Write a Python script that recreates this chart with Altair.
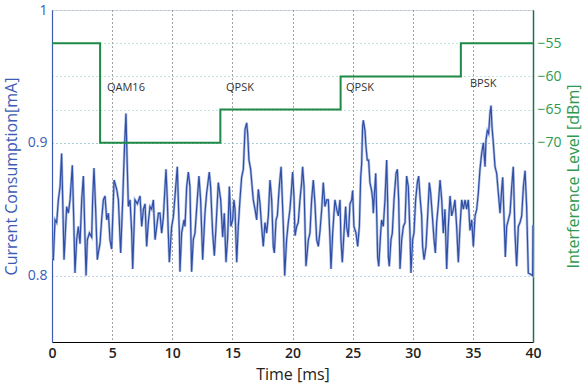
import altair as alt
import pandas as pd

# Current consumption signal (time in ms, current in mA)
t_sig = [0.0, 0.11, 0.25, 0.39, 0.53, 0.67, 0.80, 0.89, 1.00, 1.11, 1.22, 1.36, 1.50, 1.69, 1.80, 1.91,
         2.05, 2.19, 2.33, 2.47, 2.61, 2.72, 2.83, 2.94, 3.11, 3.30, 3.38, 3.49, 3.63, 3.77, 3.85, 3.99,
         4.13, 4.27, 4.41, 4.55, 4.69, 4.82, 4.96, 5.16, 5.38, 5.52, 5.71, 5.88, 6.02, 6.15, 6.26, 6.35,
         6.49, 6.63, 6.71, 6.90, 7.10, 7.32, 7.46, 7.60, 7.74, 7.87, 8.01, 8.15, 8.29, 8.43, 8.57, 8.71,
         8.85, 8.98, 9.12, 9.26, 9.48, 9.59, 9.67, 9.76, 9.95, 10.09, 10.23, 10.42, 10.59, 10.64, 10.78,
         10.98, 11.06, 11.20, 11.34, 11.47, 11.61, 11.75, 11.89, 12.08, 12.22, 12.36, 12.53, 12.72, 12.86,
         13.08, 13.19, 13.36, 13.50, 13.64, 13.83, 14.03, 14.19, 14.33, 14.47, 14.61, 14.75, 14.88, 15.02,
         15.13, 15.22, 15.36, 15.49, 15.63, 15.77, 15.91, 16.05, 16.19, 16.27, 16.38, 16.52, 16.66, 16.74,
         16.88, 17.02, 17.16, 17.30, 17.43, 17.57, 17.71, 17.85, 17.99, 18.13, 18.27, 18.40, 18.49, 18.63,
         18.74, 18.90, 19.05, 19.24, 19.35, 19.51, 19.65, 19.79, 19.93, 20.01, 20.12, 20.21, 20.35, 20.48,
         20.62, 20.76, 20.84, 20.96, 21.12, 21.32, 21.45, 21.59, 21.73, 21.87, 22.01, 22.15, 22.29, 22.43,
         22.56, 22.70, 22.84, 22.98, 23.12, 23.20, 23.34, 23.45, 23.53, 23.67, 23.81, 23.95, 24.03, 24.14,
         24.28, 24.42, 24.50, 24.64, 24.78, 24.92, 25.00, 25.11, 25.28, 25.42, 25.56, 25.67, 25.75, 25.83,
         25.89, 26.03, 26.11, 26.22, 26.33, 26.44, 26.58, 26.67, 26.72, 26.80, 26.92, 27.00, 27.08, 27.17,
         27.33, 27.41, 27.55, 27.69, 27.83, 27.91, 27.97, 28.05, 28.19, 28.30, 28.44, 28.61, 28.72, 28.83,
         28.94, 29.08, 29.22, 29.36, 29.49, 29.63, 29.77, 29.85, 29.99, 30.10, 30.24, 30.38, 30.49, 30.60,
         30.74, 30.82, 30.94, 31.10, 31.24, 31.38, 31.49, 31.63, 31.77, 31.88, 31.99, 32.13, 32.27, 32.41,
         32.54, 32.68, 32.82, 32.96, 33.10, 33.24, 33.38, 33.51, 33.65, 33.79, 33.93, 34.07, 34.21, 34.35,
         34.48, 34.62, 34.76, 34.90, 35.04, 35.18, 35.32, 35.45, 35.59, 35.73, 35.87, 36.01, 36.09, 36.20,
         36.31, 36.42, 36.51, 36.59, 36.70, 36.84, 36.98, 37.12, 37.26, 37.39, 37.48, 37.59, 37.70, 37.81,
         37.95, 38.09, 38.23, 38.36, 38.50, 38.64, 38.78, 38.92, 39.06, 39.20, 39.34, 39.47, 39.61, 39.97,
         40.0]
i_sig = [0.812, 0.812, 0.842, 0.840, 0.857, 0.867, 0.892, 0.857, 0.812, 0.832, 0.852, 0.847, 0.857, 0.883, 0.845, 0.802,
         0.827, 0.837, 0.824, 0.857, 0.875, 0.837, 0.800, 0.827, 0.832, 0.829, 0.857, 0.881, 0.850, 0.812, 0.817, 0.824,
         0.842, 0.857, 0.860, 0.842, 0.847, 0.827, 0.820, 0.872, 0.865, 0.857, 0.817, 0.857, 0.895, 0.922, 0.882, 0.852,
         0.857, 0.832, 0.805, 0.857, 0.854, 0.860, 0.837, 0.850, 0.854, 0.822, 0.840, 0.852, 0.850, 0.857, 0.827, 0.837,
         0.847, 0.847, 0.832, 0.844, 0.880, 0.857, 0.832, 0.810, 0.837, 0.844, 0.860, 0.882, 0.832, 0.803, 0.832,
         0.842, 0.837, 0.867, 0.878, 0.867, 0.803, 0.827, 0.832, 0.857, 0.875, 0.857, 0.812, 0.847, 0.862,
         0.878, 0.867, 0.832, 0.815, 0.837, 0.870, 0.857, 0.829, 0.847, 0.810, 0.829, 0.867, 0.837, 0.842,
         0.857, 0.850, 0.810, 0.837, 0.857, 0.874, 0.880, 0.910, 0.915, 0.907, 0.887, 0.880, 0.865, 0.857,
         0.850, 0.842, 0.865, 0.854, 0.837, 0.822, 0.840, 0.832, 0.845, 0.872, 0.857, 0.822, 0.817, 0.842,
         0.845, 0.867, 0.882, 0.837, 0.800, 0.827, 0.840, 0.850, 0.867, 0.878, 0.860, 0.830, 0.837, 0.840,
         0.857, 0.870, 0.882, 0.867, 0.807, 0.827, 0.832, 0.857, 0.872, 0.854, 0.827, 0.822, 0.834, 0.850,
         0.870, 0.852, 0.857, 0.857, 0.827, 0.805, 0.832, 0.847, 0.857, 0.850, 0.845, 0.857, 0.827, 0.810,
         0.832, 0.852, 0.837, 0.829, 0.854, 0.857, 0.864, 0.837, 0.832, 0.822, 0.837, 0.874, 0.884, 0.912,
         0.917, 0.909, 0.897, 0.887, 0.887, 0.870, 0.864, 0.857, 0.847, 0.860, 0.877, 0.847, 0.814, 0.807,
         0.832, 0.842, 0.837, 0.857, 0.887, 0.857, 0.814, 0.807, 0.827, 0.832, 0.857, 0.877, 0.880, 0.857,
         0.805, 0.827, 0.837, 0.840, 0.875, 0.867, 0.832, 0.802, 0.827, 0.832, 0.857, 0.870, 0.875, 0.860,
         0.845, 0.822, 0.812, 0.822, 0.845, 0.870, 0.862, 0.845, 0.827, 0.817, 0.840, 0.854, 0.872, 0.857,
         0.832, 0.850, 0.805, 0.837, 0.860, 0.845, 0.850, 0.857, 0.837, 0.810, 0.837, 0.857, 0.850, 0.857,
         0.850, 0.857, 0.834, 0.842, 0.822, 0.845, 0.850, 0.862, 0.880, 0.892, 0.900, 0.882, 0.902, 0.909,
         0.907, 0.922, 0.928, 0.912, 0.900, 0.882, 0.877, 0.862, 0.847, 0.864, 0.874, 0.844, 0.814, 0.837,
         0.842, 0.847, 0.867, 0.882, 0.832, 0.807, 0.837, 0.840, 0.845, 0.867, 0.879, 0.852, 0.802, 0.800,
         0.838]

# Interference level steps (dBm)
t_step = [0, 4, 14, 24, 34, 40]
dbm_step = [-55, -70, -65, -60, -55, -55]

# Modulation annotations
lab_text = ["QAM16", "QPSK", "QPSK", "BPSK"]
lab_t = [4.57, 14.47, 24.45, 34.76]
lab_dbm = [-61.7, -61.8, -61.8, -61.2]

FONT = "Open Sans"
BLUE = "#3d5bb5"
GREEN = "#2e9a4e"
DKGREEN = "#1f7050"

sig_df = pd.DataFrame({"t": t_sig, "i": i_sig})
step_df = pd.DataFrame({"t": t_step, "d": dbm_step})
lab_df = pd.DataFrame({"t": lab_t, "d": lab_dbm, "txt": lab_text})

x_enc = alt.X(
    "t:Q",
    scale=alt.Scale(domain=[0, 40], nice=False),
    axis=alt.Axis(
        values=list(range(0, 41, 5)), title="Time [ms]", grid=True, gridDash=[1, 3],
        gridColor="#444", gridWidth=1, ticks=False, domainColor="#000", domainWidth=1.2,
        labelFontSize=14, labelFontWeight=600, labelColor="#222", labelPadding=4,
        titleFontSize=16, titleFontWeight="normal", titleColor="#222", titlePadding=6,
        labelFlush=False,
    ),
)

y_left = alt.Y(
    "i:Q",
    scale=alt.Scale(domain=[0.75, 1.0], nice=False, zero=False),
    axis=alt.Axis(
        values=[0.8, 0.9, 1.0], format="~g", title="Current Consumption[mA]",
        grid=True, gridDash=[1, 3], gridColor="#8fb0d8", ticks=False,
        domainColor=BLUE, domainWidth=1.2, labelColor=BLUE, labelFontSize=14,
        labelPadding=5, titleColor=BLUE, titleFontSize=16, titleFontWeight="normal",
        titlePadding=8,
    ),
)

halo = alt.Chart(sig_df).mark_line(color="#9fb0dc", strokeWidth=2.6, opacity=0.8).encode(
    x=x_enc, y=y_left
)
signal = alt.Chart(sig_df).mark_line(color="#2f4ea6", strokeWidth=1.2).encode(
    x=x_enc, y=y_left
)

y_right_scale = alt.Scale(domain=[-100, -50], nice=False, zero=False)

step = alt.Chart(step_df).mark_line(color="#1e8a45", strokeWidth=2, interpolate="step-after").encode(
    x=x_enc,
    y=alt.Y(
        "d:Q",
        scale=y_right_scale,
        axis=alt.Axis(
            orient="right", values=[-55, -60, -65, -70], title="Interference Level [dBm]",
            grid=True, gridDash=[1, 3], gridColor="#86c6bc", ticks=False,
            domainColor=DKGREEN, domainWidth=1.5, labelColor=GREEN, labelFontSize=14,
            labelPadding=4, titleColor=GREEN, titleFontSize=16, titleFontWeight="normal",
            titleAngle=270, titleBaseline="top", titlePadding=4,
        ),
    ),
)

labels = alt.Chart(lab_df).mark_text(
    align="left", baseline="middle", fontSize=11, color="#333", font=FONT
).encode(
    x=x_enc,
    y=alt.Y("d:Q", scale=y_right_scale),
    text="txt:N",
)

chart = alt.layer(alt.layer(halo, signal), alt.layer(step, labels)).resolve_scale(y="independent").properties(
    width=481, height=332,
    autosize=alt.AutoSizeParams(type="none"),
    padding={"left": 52, "top": 10, "right": 51, "bottom": 48},
).configure_view(stroke="#000", strokeWidth=1.2).configure(font=FONT).configure_axis(
    labelFont=FONT, titleFont=FONT
)

chart.save("out.html", embed_options={"renderer": "svg", "actions": False})
